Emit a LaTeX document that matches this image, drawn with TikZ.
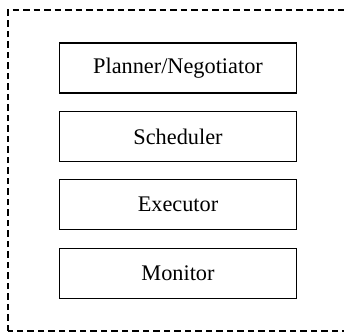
\documentclass[tikz,border=0pt]{standalone}
\usepackage{fontspec}
\setmainfont{Liberation Serif}
\usepackage{tikz}
\usetikzlibrary{positioning}

\tikzset{
  layer/.style={draw, line width=1.1pt, minimum width=237pt, minimum height=50pt,
    inner sep=0pt, font=\fontsize{22.3}{26}\selectfont},
  frame/.style={draw, line width=1.4pt, dash pattern=on 6.5pt off 4pt}
}

\begin{document}
\begin{tikzpicture}[x=1pt, y=1pt]
  \clip (0,0) rectangle (344,333);
  \useasboundingbox (0,0) rectangle (344,333);
  % outer agent boundary
  \draw[frame] (8,2) rectangle (356,323);
  % layers, top to bottom
  \node[layer] (planner) at (178,265) {Planner/Negotiator};
  \node[layer, below=17.3pt of planner] (scheduler) {Scheduler};
  \node[layer, below=17.3pt of scheduler] (executor) {Executor};
  \node[layer, below=17.3pt of executor] (monitor) {Monitor};
\end{tikzpicture}
\end{document}
